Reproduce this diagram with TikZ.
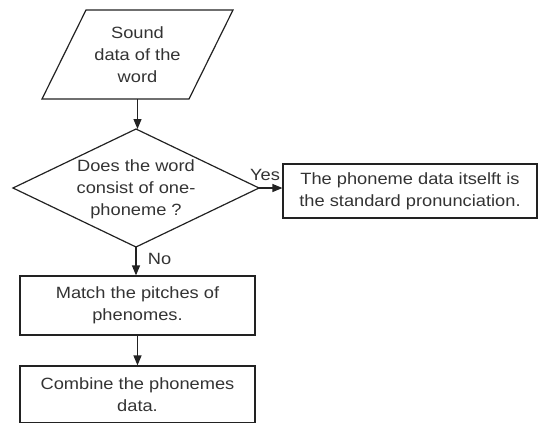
\documentclass[tikz,border=0pt]{standalone}
\usepackage{fontspec}
\setmainfont[FakeStretch=1.12]{Liberation Sans}
\usetikzlibrary{shapes.geometric,arrows.meta}
\definecolor{ln}{HTML}{222222}
\definecolor{tx}{HTML}{333333}
\tikzset{
  lbl/.style={text=tx, font=\fontsize{16.3}{22}\selectfont, align=center, inner sep=0pt},
  outline/.style={draw=ln, line width=1.2pt},
  procbox/.style={draw=ln, line width=1.2pt, rectangle, inner sep=0pt, text=tx,
     font=\fontsize{16.3}{22}\selectfont, align=center},
  flow/.style={draw=ln, line width=1.2pt, -{Triangle[length=10pt,width=8pt]}},
  tag/.style={text=tx, font=\fontsize{16.3}{20}\selectfont, inner sep=0pt}
}
\begin{document}
\begin{tikzpicture}[x=1pt,y=-1pt]
\useasboundingbox (0,0) rectangle (543,423);
% input parallelogram
\draw[outline] (86,10) -- (233,10) -- (189,99) -- (42,99) -- cycle;
\node[lbl] (snd) at (137.5,55) {Sound\\data of the\\word};
\coordinate (sndbot) at (137.5,99);
% decision diamond
\coordinate (dtop) at (136,129);
\coordinate (dbot) at (136,247);
\coordinate (dleft) at (13,188);
\coordinate (dright) at (259,188);
\draw[outline] (dtop) -- (dright) -- (dbot) -- (dleft) -- cycle;
\node[lbl] (dia) at (136,189) {Does the word\\consist of one-\\phoneme ?};
% yes box
\node[procbox, minimum width=254pt, minimum height=54pt] (yesb) at (410,191)
  {The phoneme data itselft is\\the standard pronunciation.};
% match box
\node[procbox, minimum width=235pt, minimum height=59pt] (match) at (137.5,305.5)
  {Match the pitches of\\phenomes.};
% combine box
\node[procbox, minimum width=235pt, minimum height=56.5pt] (comb) at (137.5,394.25)
  {Combine the phonemes\\data.};
% connectors
\draw[flow] (sndbot) -- (dtop -| sndbot);
\draw[flow] (dright) -- (dright -| yesb.west);
\draw[flow] (dbot) -- (dbot |- match.north);
\draw[flow] (match.south) -- (comb.north);
\node[tag] (yes) at (265,175) {Yes};
\node[tag] (no) at (159.5,259) {No};
\end{tikzpicture}
\end{document}
